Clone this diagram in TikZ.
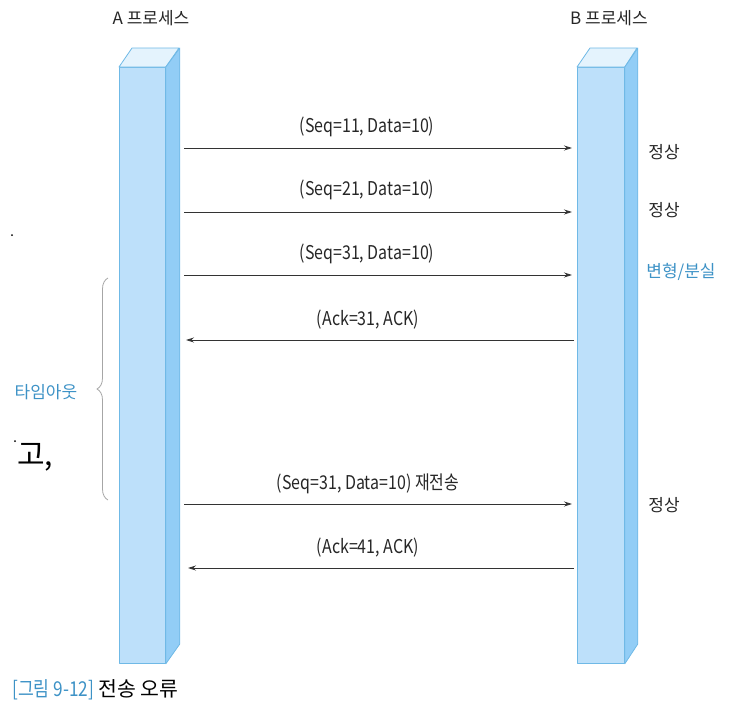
\documentclass[tikz,border=0pt]{standalone}
\usepackage{fontspec}
\setmainfont{Noto Sans CJK KR}
\newfontfamily\narrowfont{Noto Sans CJK KR}[FakeStretch=0.84]
\usetikzlibrary{arrows.meta,decorations.pathreplacing}
\definecolor{barfront}{HTML}{BDE0FA}
\definecolor{barside}{HTML}{92CDF6}
\definecolor{bartop}{HTML}{E4F3FD}
\definecolor{barline}{HTML}{6FB9E6}
\definecolor{noteblue}{HTML}{3D92C6}

\begin{document}
\begin{tikzpicture}[x=1pt,y=-1pt,
  msg/.style={draw=black!80,line width=0.8pt,-{Stealth[length=8pt,width=5pt]}},
  lbl/.style={font=\narrowfont\fontsize{19}{21}\selectfont,text=black!85},
  kor/.style={font=\fontsize{17}{20}\selectfont,text=black!85},
  note/.style={font=\fontsize{17}{20}\selectfont,text=noteblue},
  face/.style={draw=barline,line width=0.8pt,line join=round}]
\useasboundingbox (0,0) rectangle (745,726);

% process bars
\draw (119,67) node[face,fill=barfront,anchor=north west,minimum width=46pt,minimum height=596pt,inner sep=0pt](barA) {};
\draw[face,fill=bartop] (barA.north west) -- ++(13,-19) -- ++(47,0) -- (barA.north east) -- cycle;
\draw[face,fill=barside] (barA.north east) -- ++(14,-19) -- ++(0,596) -- (barA.south east) -- cycle;
\draw (577,67) node[face,fill=barfront,anchor=north west,minimum width=47pt,minimum height=596pt,inner sep=0pt](barB) {};
\draw[face,fill=bartop] (barB.north west) -- ++(13,-19) -- ++(47,0) -- (barB.north east) -- cycle;
\draw[face,fill=barside] (barB.north east) -- ++(13,-19) -- ++(0,596) -- (barB.south east) -- cycle;

\draw (151,18) node[kor](procA) {A 프로세스};
\draw (609,18) node[kor](procB) {B 프로세스};

% message ends
\coordinate (a1) at (184,148); \coordinate (b1) at (572,148);
\coordinate (a2) at (184,212); \coordinate (b2) at (572,212);
\coordinate (a3) at (184,275); \coordinate (b3) at (572,275);
\coordinate (a4) at (186,340); \coordinate (b4) at (574,340);
\coordinate (a5) at (184,504); \coordinate (b5) at (572,504);
\coordinate (a6) at (188,568); \coordinate (b6) at (574,568);

\draw[msg] (a1) -- (b1);
\draw[msg] (a2) -- (b2);
\draw[msg] (a3) -- (b3);
\draw[msg] (b4) -- (a4);
\draw[msg] (a5) -- (b5);
\draw[msg] (b6) -- (a6);

\draw (367,127) node[lbl](seq1) {(Seq=11, Data=10)};
\draw (367,190) node[lbl](seq2) {(Seq=21, Data=10)};
\draw (367,254) node[lbl](seq3) {(Seq=31, Data=10)};
\draw (368,320) node[lbl](ack1) {(Ack=31, ACK)};
\draw (368,484) node[lbl](seq4) {(Seq=31, Data=10) 재전송};
\draw (368,548) node[lbl](ack2) {(Ack=41, ACK)};

\draw (664,152) node[kor](ok1) {정상};
\draw (664,210) node[kor](ok2) {정상};
\draw (681,272) node[note](lost) {변형/분실};
\draw (664,505) node[kor](ok3) {정상};

% timeout
\draw[black!35,line width=0.8pt,decorate,decoration={brace,amplitude=11pt}] (108,500) -- (108,278);
\draw (46,392) node[note](tout) {타임아웃};

\draw (35,457) node[font=\fontsize{30}{32}\selectfont](sub) {고,};
\fill (12,235) circle (1pt);
\fill (15,441) circle (1pt);

\draw (12,690) node[anchor=west,font=\fontsize{20.5}{23}\selectfont,inner sep=0pt](cap) {{\narrowfont\color{noteblue}[그림 9-12]} 전송 오류};
\end{tikzpicture}
\end{document}
